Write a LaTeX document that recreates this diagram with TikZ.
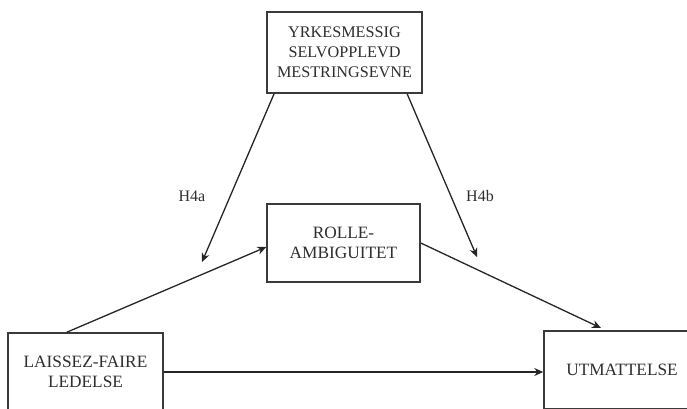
\documentclass[tikz,border=0pt]{standalone}
\usepackage{fontspec}
\setmainfont{Liberation Serif}
\usetikzlibrary{arrows.meta,calc}
\definecolor{ink}{HTML}{2E2E2E}
\definecolor{frame}{HTML}{3A3A3A}
\tikzset{
  box/.style={draw=frame, line width=1.5pt, fill=white, text=ink,
    align=center, inner sep=0pt,
    font=\fontsize{17.3}{20.5}\selectfont},
  link/.style={draw=black!85, line width=1.3pt,
    -{Stealth[length=9pt,width=8pt]}},
  hyp/.style={text=ink, font=\fontsize{16}{20}\selectfont}
}
\begin{document}
\begin{tikzpicture}[x=1pt,y=-1pt]
  \fill[white] (0,0) rectangle (687,408);
  \useasboundingbox (0,0) rectangle (687,408);
  \clip (0,0) rectangle (687,408);

  % variables of the mediation model
  \node[box, minimum width=155pt, minimum height=81pt,
        font=\fontsize{16.2}{20}\selectfont] (mod) at (344.5,52.5)
    {YRKESMESSIG\\SELVOPPLEVD\\MESTRINGSEVNE};
  \node[box, minimum width=153pt, minimum height=78pt] (med) at (343.5,243)
    {ROLLE-\\AMBIGUITET};
  \node[box, minimum width=155pt, minimum height=78pt] (ind) at (85.5,372)
    {LAISSEZ-FAIRE\\LEDELSE};
  \node[box, minimum width=156pt, minimum height=78pt] (dep) at (622,370)
    {UTMATTELSE};

  % hypothesis labels
  \node[hyp] (h4a) at (192,196) {H4a};
  \node[hyp] (h4b) at (480,196) {H4b};

  % free ends of the moderation arrows
  \coordinate (pa) at (202,262);
  \coordinate (pb) at (477,257);
  \coordinate (pd) at (601,328);

  % paths
  \draw[link] ($(mod.south west)!0.05!(mod.south east)$) -- (pa);
  \draw[link] ($(mod.south west)!0.90!(mod.south east)$) -- (pb);
  \draw[link] ($(ind.north west)!0.38!(ind.north east)$) -- ($(med.west)+(0,4)$);
  \draw[link] (med.east) -- (pd);
  \draw[link] (ind.east) -- (dep.west |- ind.east);
\end{tikzpicture}
\end{document}
